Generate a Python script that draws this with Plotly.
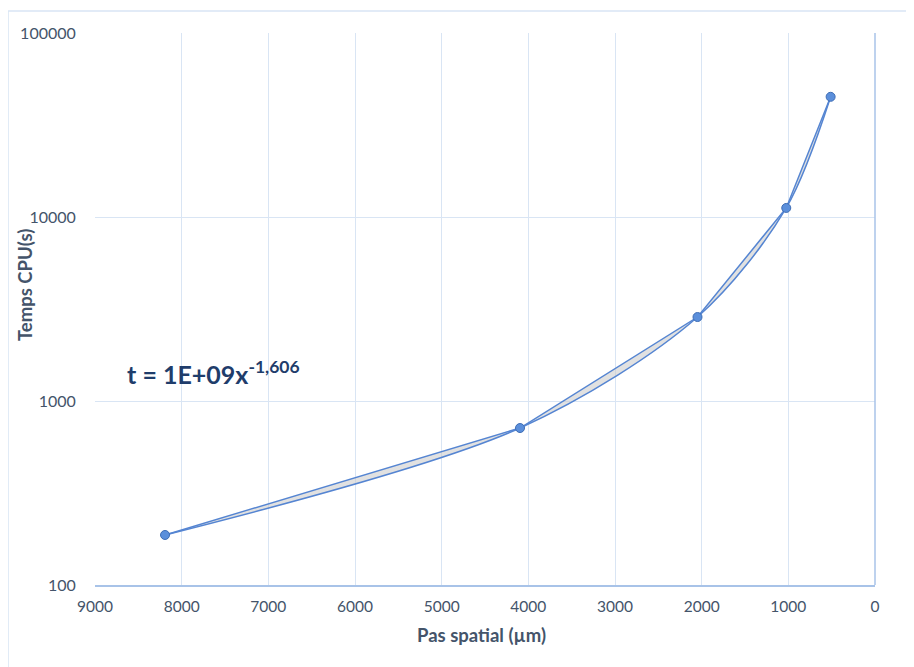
import plotly.graph_objects as go

pas_spatial = [8192, 4096, 2048, 1024, 512]
temps_cpu = [187, 713, 2860, 11200, 45000]
x_ticks = [9000, 8000, 7000, 6000, 5000, 4000, 3000, 2000, 1000, 0]
y_ticks = [100, 1000, 10000, 100000]
equation = "t = 1E+09x<sup>-1,606</sup>"

line_col = "#5585D2"
grid_col = "#D9E5F4"
text_col = "#44546A"

fig = go.Figure()
fig.add_trace(go.Scatter(x=pas_spatial, y=temps_cpu, mode="lines",
                         line=dict(color=line_col, width=1.5), showlegend=False))
fig.add_trace(go.Scatter(x=pas_spatial, y=temps_cpu, mode="lines",
                         line=dict(color=line_col, width=1.5, shape="spline", smoothing=0.9),
                         fill="tonexty", fillcolor="rgba(200,200,200,0.55)", showlegend=False))
fig.add_trace(go.Scatter(x=pas_spatial, y=temps_cpu, mode="markers",
                         marker=dict(size=9, color="#5B8FDB", line=dict(color="#3E6DB5", width=1)),
                         showlegend=False))

fig.add_annotation(x=0.038, y=0.385, xref="paper", yref="paper", text=equation,
                   showarrow=False, xanchor="left", yanchor="middle",
                   font=dict(family="Lato", size=25, color="#1F3D6B", weight="bold"))

# axis titles
fig.add_annotation(x=-0.0897, y=0.5435, xref="paper", yref="paper", text="Temps CPU(s)",
                   showarrow=False, textangle=-90, xanchor="center", yanchor="middle",
                   font=dict(family="Lato", size=18.5, color=text_col, weight="bold"))
fig.add_annotation(x=0.495, y=-0.0906, xref="paper", yref="paper", text="Pas spatial (µm)",
                   showarrow=False, xanchor="center", yanchor="middle",
                   font=dict(family="Lato", size=18.5, color=text_col, weight="bold"))

# outer chart border (top and left visible)
fig.add_shape(type="line", xref="paper", yref="paper", x0=-0.1115, x1=1.2, y0=1.0399, y1=1.0399,
              line=dict(color=grid_col, width=1.5))
fig.add_shape(type="line", xref="paper", yref="paper", x0=-0.1115, x1=-0.1115, y0=1.0399, y1=-0.3,
              line=dict(color=grid_col, width=1.5))
# vertical axis line at x=0 (right side)
fig.add_shape(type="line", xref="paper", yref="paper", x0=1, x1=1, y0=0, y1=1,
              line=dict(color="#A8C3E8", width=1.5))

fig.update_layout(
    width=914, height=667,
    margin=dict(l=87, r=47, t=25, b=90),
    paper_bgcolor="white", plot_bgcolor="white",
    font=dict(family="Lato", color=text_col, size=13),
    xaxis=dict(range=[9000, 0], tickvals=x_ticks, showgrid=True, gridcolor=grid_col, gridwidth=1.3,
               zeroline=False, showline=True, linecolor="#A8C3E8", linewidth=1.5,
               ticks="outside", ticklen=7, tickcolor="rgba(0,0,0,0)", automargin=False,
               tickfont=dict(size=15.5, color=text_col)),
    yaxis=dict(type="log", range=[2, 5], tickvals=y_ticks, ticktext=[str(v) for v in y_ticks],
               showgrid=True, gridcolor=grid_col, gridwidth=1.3, zeroline=False, showline=False,
               ticks="outside", ticklen=15, tickcolor="rgba(0,0,0,0)", automargin=False,
               tickfont=dict(size=16, color=text_col)),
)

fig.write_html("out.html")
